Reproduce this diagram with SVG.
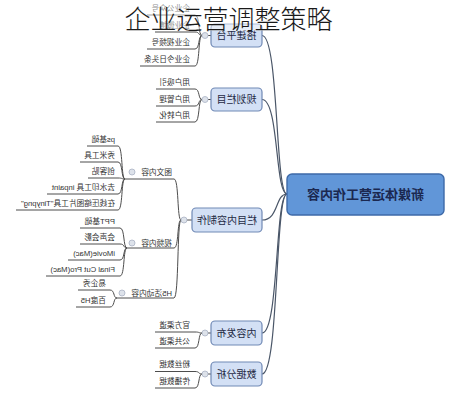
<svg xmlns="http://www.w3.org/2000/svg" width="458" height="400" viewBox="0 0 458 400">
<style>
.c{fill:none;stroke:#4d4d4d;stroke-width:1}
.rc{fill:none;stroke:#4a5668;stroke-width:1.2}
.b{fill:#d3e0f5;stroke:#7089b5;stroke-width:1.2}
.root{fill:#6196d8;stroke:#3e6aa8;stroke-width:1.4}
.t{font-family:"Liberation Sans","Noto Sans CJK SC",sans-serif;font-size:7.7px;fill:#333}
.bt{font-family:"Noto Sans CJK SC",sans-serif;font-size:10px;fill:#1f2a44;text-anchor:middle}
.rt{font-family:"Noto Sans CJK SC",sans-serif;font-size:13px;fill:#1b2850;text-anchor:middle;font-weight:bold}
.k{fill:#dde2ea;stroke:#aab3c4;stroke-width:0.8}
.title{font-family:"Noto Sans CJK SC",sans-serif;font-size:26px;font-weight:300;fill:#1a1a1a;text-anchor:middle}
</style>
<rect width="458" height="400" fill="#fff"/>
<g transform="matrix(-1 0 0 1 458 0)">
<g id="connectors">
<path class="rc" d="M171,194 C183,194 179,35.5 196,35.5"/>
<path class="rc" d="M171,194 C183,194 179,99.5 196,99.5"/>
<path class="rc" d="M171,194 C183,194 179,220 196,220"/>
<path class="rc" d="M171,194 C183,194 179,333 196,333"/>
<path class="rc" d="M171,194 C183,194 179,374 196,374"/>
<path class="c" d="M247,35.5 H250 M247,99.5 H250 M266,220 H271 M247,333 H250 M247,374 H250"/>
<path class="c" d="M256,35.5 C260,35.5 258,15 263,15 H311"/>
<path class="c" d="M256,35.5 C260,35.5 258,32 263,32 H303"/>
<path class="c" d="M256,35.5 C260,35.5 258,49 263,49 H311"/>
<path class="c" d="M256,35.5 C260,35.5 258,66 263,66 H318"/>
<path class="c" d="M256,99.5 C260,99.5 258,89 263,89 H302"/>
<path class="c" d="M256,99.5 C260,99.5 258,106 263,106 H302"/>
<path class="c" d="M256,99.5 C260,99.5 258,122 263,122 H302"/>
<path class="c" d="M277,220 C281,220 279,179 284,179 H333"/>
<path class="c" d="M277,220 C281,220 279,248 284,248 H331"/>
<path class="c" d="M277,220 C281,220 279,298 284,298 H341"/>
<path class="c" d="M333,179 C337,179 335,146 340,146 H371"/>
<path class="c" d="M333,179 C337,179 335,162 340,162 H378"/>
<path class="c" d="M333,179 C337,179 335,178 340,178 H370"/>
<path class="c" d="M333,179 C337,179 335,194 340,194 H411"/>
<path class="c" d="M333,179 C337,179 335,210 340,210 H442"/>
<path class="c" d="M331,248 C335,248 333,228 338,228 H378"/>
<path class="c" d="M331,248 C335,248 333,244 338,244 H378"/>
<path class="c" d="M331,248 C335,248 333,260 338,260 H390"/>
<path class="c" d="M331,248 C335,248 333,276 338,276 H412"/>
<path class="c" d="M341,298 C345,298 343,290 348,290 H380"/>
<path class="c" d="M341,298 C345,298 343,307 348,307 H382"/>
<path class="c" d="M256,333 C260,333 258,332 263,332 H303"/>
<path class="c" d="M256,333 C260,333 258,348 263,348 H303"/>
<path class="c" d="M256,374 C260,374 258,371.5 263,371.5 H303"/>
<path class="c" d="M256,374 C260,374 258,388 263,388 H303"/>
</g>
<g id="root"><rect class="root" x="14" y="174" width="157" height="41" rx="5"/><text class="rt" x="92.5" y="198.7">新媒体运营工作内容</text></g>
<g id="n-platform"><rect class="b" x="196" y="24" width="51" height="23" rx="4"/><text class="bt" x="221.5" y="39.1">搭建平台</text><circle class="k" cx="253" cy="35.5" r="3"/></g>
<g id="n-plan"><rect class="b" x="196" y="88" width="51" height="23" rx="4"/><text class="bt" x="221.5" y="103.1">规划栏目</text><circle class="k" cx="253" cy="99.5" r="3"/></g>
<g id="n-make"><rect class="b" x="196" y="208" width="70" height="24" rx="4"/><text class="bt" x="231" y="223.6">栏目内容制作</text><circle class="k" cx="274" cy="220" r="3"/></g>
<g id="n-publish"><rect class="b" x="196" y="321" width="51" height="24" rx="4"/><text class="bt" x="221.5" y="336.6">内容发布</text><circle class="k" cx="253" cy="333" r="3"/></g>
<g id="n-data"><rect class="b" x="196" y="362" width="51" height="24" rx="4"/><text class="bt" x="221.5" y="377.6">数据分析</text><circle class="k" cx="253" cy="374" r="3"/></g>
<g id="leaves-platform">
<text class="t" x="268" y="10.5">企业公众号</text>
<text class="t" x="268" y="27.5">企业微博</text>
<text class="t" x="268" y="44.5">企业视频号</text>
<text class="t" x="268" y="61.5">企业今日头条</text>
</g>
<g id="leaves-plan">
<text class="t" x="268" y="84.5">用户吸引</text>
<text class="t" x="268" y="101.5">用户管理</text>
<text class="t" x="268" y="117.5">用户转化</text>
</g>
<g id="n-graphic"><text class="t" x="286" y="175">图文内容</text><circle class="k" cx="326" cy="172" r="3"/></g>
<g id="n-video"><text class="t" x="286" y="246">视频内容</text><circle class="k" cx="326" cy="243" r="3"/></g>
<g id="n-h5"><text class="t" x="286" y="295.5">H5活动内容</text><circle class="k" cx="336" cy="293" r="3"/></g>
<g id="leaves-graphic">
<text class="t" x="343" y="141.5">ps基础</text>
<text class="t" x="343" y="157.5">秀米工具</text>
<text class="t" x="343" y="173.5">创客贴</text>
<text class="t" x="343" y="189.5">去水印工具 inpaint</text>
<text class="t" x="343" y="205.5">在线压缩图片工具"Tinypng"</text>
</g>
<g id="leaves-video">
<text class="t" x="343" y="223.5">PPT基础</text>
<text class="t" x="343" y="239.5">会声会影</text>
<text class="t" x="343" y="255.5">iMovie(Mac)</text>
<text class="t" x="343" y="271.5">Final Cut Pro(Mac)</text>
</g>
<g id="leaves-h5">
<text class="t" x="352" y="285.5">易企秀</text>
<text class="t" x="352" y="302.5">百度H5</text>
</g>
<g id="leaves-publish">
<text class="t" x="268" y="327.5">官方渠道</text>
<text class="t" x="268" y="343.5">公共渠道</text>
</g>
<g id="leaves-data">
<text class="t" x="268" y="367">粉丝数据</text>
<text class="t" x="268" y="383.5">传播数据</text>
</g>
</g>
<rect x="0" y="0" width="458" height="31" fill="#fff" opacity="0.45"/>
<g id="title"><text class="title" x="228.5" y="29">企业运营调整策略</text></g>
</svg>
